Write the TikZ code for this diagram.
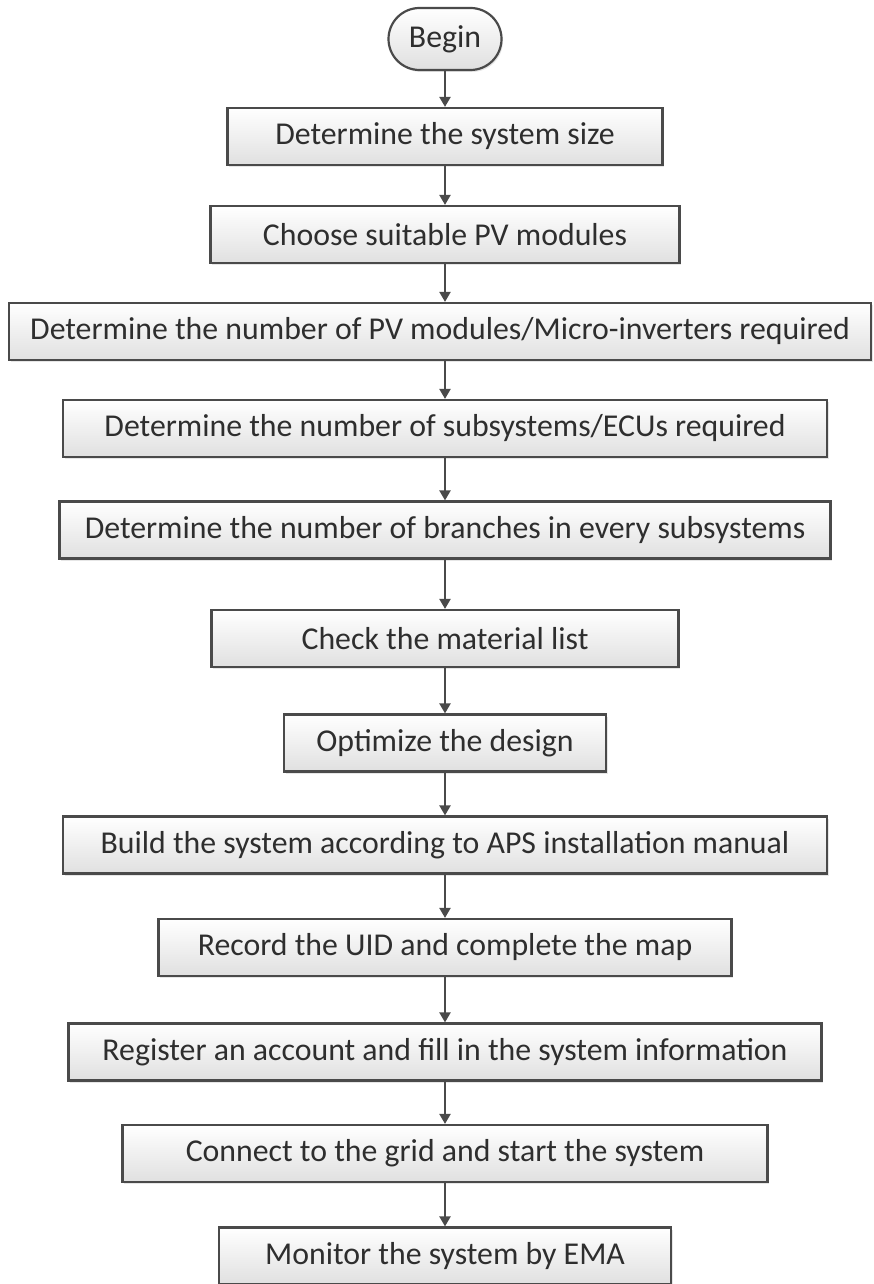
\documentclass[tikz,border=0pt]{standalone}
\usepackage{fontspec}
\setmainfont{Carlito}
\usetikzlibrary{arrows.meta,shadows}
\definecolor{edge}{HTML}{4A4A4A}
\definecolor{boxbot}{HTML}{E0E0E0}
\definecolor{txt}{HTML}{2E2E2E}
\begin{document}
\begin{tikzpicture}[x=1pt,y=-1pt,
  box/.style={draw=edge, line width=2.2pt, top color=white, bottom color=boxbot,
    drop shadow={opacity=0.2, shadow xshift=1.5pt, shadow yshift=-2pt},
    minimum height=57pt, inner sep=0pt, text=txt, font=\fontsize{31.8}{38}\selectfont},
  arr/.style={draw=edge, line width=2.2pt, -{Triangle[length=10pt,width=11pt]}}]
\useasboundingbox (0,0) rectangle (874,1284);
\node[box, rounded corners=31pt, minimum width=113pt, minimum height=62pt] (begin) at (445,39) {Begin};
\node[box, minimum width=435pt] (b1) at (445,136.5) {Determine the system size};
\node[box, minimum width=469pt] (b2) at (445,234.5) {Choose suitable PV modules};
\node[box, minimum width=862pt] (b3) at (440,331.5) {Determine the number of PV modules/Micro-inverters required};
\node[box, minimum width=764pt] (b4) at (445,428.5) {Determine the number of subsystems/ECUs required};
\node[box, minimum width=771pt] (b5) at (445,530) {Determine the number of branches in every subsystems};
\node[box, minimum width=467pt] (b6) at (445,638.5) {Check the material list};
\node[box, minimum width=322pt] (b7) at (445,743) {Optimize the design};
\node[box, minimum width=764pt] (b8) at (445,845) {Build the system according to APS installation manual};
\node[box, minimum width=573pt] (b9) at (445,947.5) {Record the UID and complete the map};
\node[box, minimum width=753pt] (b10) at (445,1052) {Register an account and fill in the system information};
\node[box, minimum width=645pt] (b11) at (445,1153.5) {Connect to the grid and start the system};
\node[box, minimum width=452pt] (b12) at (445,1256) {Monitor the system by EMA};
\draw[arr] (begin) -- (b1);
\draw[arr] (b1) -- (b2);
\draw[arr] (b2) -- (b3.north -| b2);
\draw[arr] (b3.south -| b4) -- (b4);
\draw[arr] (b4) -- (b5);
\draw[arr] (b5) -- (b6);
\draw[arr] (b6) -- (b7);
\draw[arr] (b7) -- (b8);
\draw[arr] (b8) -- (b9);
\draw[arr] (b9) -- (b10);
\draw[arr] (b10) -- (b11);
\draw[arr] (b11) -- (b12);
\end{tikzpicture}
\end{document}
